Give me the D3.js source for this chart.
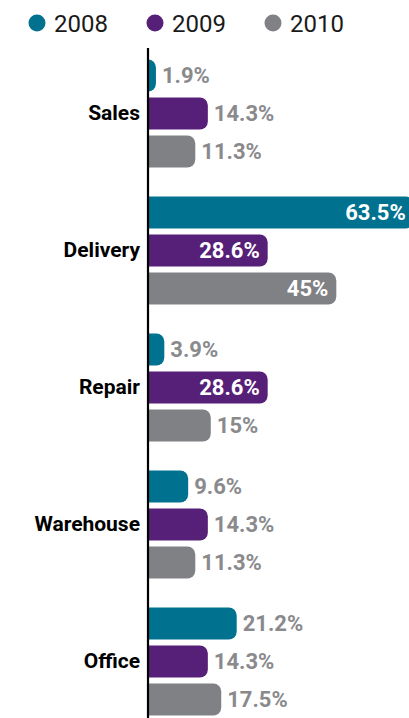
<!DOCTYPE html>
<html>
<head>
<meta charset="utf-8">
<script src="https://cdn.jsdelivr.net/npm/d3@7"></script>
<style>
  body { margin: 0; background: #fff; }
  svg { display: block; font-family: Roboto, "Liberation Sans", sans-serif; }
</style>
</head>
<body>
<svg width="409" height="718"></svg>
<script>
// data
var categories = ["Sales", "Delivery", "Repair", "Warehouse", "Office"]
var years = ["2008", "2009", "2010"]
var v2008 = [1.9, 63.5, 3.9, 9.6, 21.2]
var v2009 = [14.3, 28.6, 28.6, 14.3, 14.3]
var v2010 = [11.3, 45, 15, 11.3, 17.5]
var colors = ["#00728f", "#561f78", "#808184"]

var svg = d3.select("svg")

var series = [v2008, v2009, v2010]
var rows = []
categories.forEach(function(c, i) {
	years.forEach(function(y, j) {
		rows.push({cat: c, year: y, value: series[j][i]})
	})
})

var x = d3.scaleLinear().domain([0, 65]).range([148, 420])
var y0 = d3.scaleBand().domain(categories).range([45, 45 + 5 * 137])
var y1 = d3.scaleBand().domain(years).range([0, 114]).paddingInner(6 / 38).paddingOuter(3 / 38)
var color = d3.scaleOrdinal().domain(years).range(colors)

// bar with square left end and rounded right end
function barPath(d) {
	var x0 = x(0), x1 = x(d.value)
	var top = y0(d.cat) + 11.5 + y1(d.year), h = y1.bandwidth()
	var r = Math.min(8, x1 - x0, h / 2)
	return "M" + x0 + "," + top +
		"H" + (x1 - r) +
		"A" + r + "," + r + " 0 0 1 " + x1 + "," + (top + r) +
		"V" + (top + h - r) +
		"A" + r + "," + r + " 0 0 1 " + (x1 - r) + "," + (top + h) +
		"H" + x0 + "Z"
}

svg.append("g").selectAll("path")
	.data(rows)
	.enter().append("path")
	.attr("d", barPath)
	.attr("fill", function(d) { return color(d.year) })

svg.append("g").selectAll("text")
	.data(rows)
	.enter().append("text")
	.attr("x", function(d) { return d.value > 25 ? x(d.value) - 8 : x(d.value) + 6 })
	.attr("y", function(d) { return y0(d.cat) + 11.5 + y1(d.year) + y1.bandwidth() / 2 })
	.attr("dy", "0.36em")
	.attr("text-anchor", function(d) { return d.value > 25 ? "end" : "start" })
	.attr("fill", function(d) { return d.value > 25 ? "#fff" : "#8a8a8d" })
	.attr("font-size", 22)
	.attr("font-weight", "bold")
	.text(function(d) { return d.value + "%" })

// category axis
var axis = svg.append("g")
	.attr("transform", "translate(148,0)")
	.call(d3.axisLeft(y0).tickSize(0).tickPadding(8))
axis.select(".domain").attr("stroke", "#000").attr("stroke-width", 2.2)
	.attr("d", "M0,48V718")
axis.selectAll("text")
	.attr("fill", "#000")
	.attr("font-size", 21)
	.attr("font-weight", "bold")
	.attr("font-family", "Roboto, sans-serif")

// legend
var legend = svg.append("g").selectAll("g")
	.data(years)
	.enter().append("g")
	.attr("transform", function(d, i) { return "translate(" + (37 + i * 118) + ",23)" })
legend.append("circle").attr("r", 8.5).attr("fill", function(d) { return color(d) })
legend.append("text")
	.attr("x", 17)
	.attr("dy", "0.36em")
	.attr("font-size", 24)
	.attr("fill", "#1a1a1a")
	.text(function(d) { return d })
</script>
</body>
</html>
